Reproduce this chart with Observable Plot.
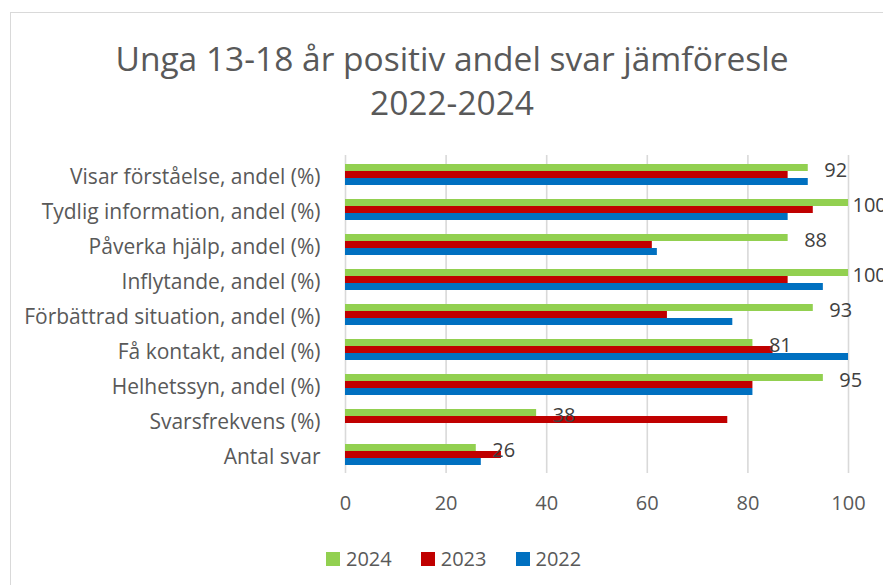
<!DOCTYPE html>
<html><head><meta charset="utf-8">
<script src="https://cdn.jsdelivr.net/npm/d3@7"></script>
<script src="https://cdn.jsdelivr.net/npm/@observablehq/plot@0.6"></script>
<style>
body{margin:0;background:#fff;}
#wrap{position:relative;width:883px;height:585px;overflow:hidden;font-family:"Open Sans",sans-serif;background:#fff;}
#border{position:absolute;left:10px;top:12px;width:900px;height:600px;border:1.5px solid #d9d9d9;}
#title{position:absolute;left:0;width:904px;top:36px;text-align:center;font-size:33.5px;color:#595959;line-height:44px;}
#grid,#chart{position:absolute;left:0;top:0;}
#legend{position:absolute;top:545px;left:326px;display:flex;align-items:center;font-size:20px;color:#595959;line-height:27px;}
#legend .item{display:flex;align-items:center;margin-right:29px;}
#legend .sw{width:14px;height:14px;margin-right:6px;}
</style></head>
<body>
<div id="wrap">
  <div id="border"></div>
  <div id="title">Unga 13-18 år positiv andel svar jämföresle<br>2022-2024</div>
  <div id="grid"></div>
  <div id="chart"></div>
  <div id="legend"></div>
</div>
<script>
const categories = [
  "Visar förståelse, andel (%)",
  "Tydlig information, andel (%)",
  "Påverka hjälp, andel (%)",
  "Inflytande, andel (%)",
  "Förbättrad situation, andel (%)",
  "Få kontakt, andel (%)",
  "Helhetssyn, andel (%)",
  "Svarsfrekvens (%)",
  "Antal svar"
];
const series = ["2024", "2023", "2022"];
const colors = ["#92D050", "#C00000", "#0070C0"];
const values2024 = [92, 100, 88, 100, 93, 81, 95, 38, 26];
const values2023 = [88, 93, 61, 88, 64, 85, 81, 76, 31];
const values2022 = [92, 88, 62, 95, 77, 100, 81, null, 27];
const xTicks = [0, 20, 40, 60, 80, 100];

const valuesBySeries = {"2024": values2024, "2023": values2023, "2022": values2022};
const rows = [];
series.forEach(s => categories.forEach((c, i) => {
  const v = valuesBySeries[s][i];
  if (v != null) rows.push({category: c, series: s, value: v});
}));
const labelRows = rows.filter(d => d.series === "2024");

const frame = {width: 883, height: 530, marginLeft: 345, marginRight: 35, marginTop: 155, marginBottom: 57};
const font = {fontFamily: "'Open Sans', sans-serif", fontSize: "20px", color: "#595959", background: "transparent", overflow: "visible"};

// Background: gridlines and x axis spanning the whole plot area
const grid = Plot.plot({
  ...frame,
  x: {domain: [0, 100]},
  style: font,
  marks: [
    Plot.ruleX(xTicks, {stroke: "#d9d9d9", strokeWidth: 1.6}),
    Plot.axisX({ticks: xTicks, tickSize: 0, tickPadding: 22, fontSize: 20, label: null, fill: "#595959"})
  ]
});
document.getElementById("grid").appendChild(grid);

// Foreground: grouped bars faceted by category
const chart = Plot.plot({
  ...frame,
  x: {domain: [0, 100], axis: null},
  y: {domain: series, padding: 0, axis: null},
  fy: {domain: categories, paddingInner: 0.376, paddingOuter: 0.198},
  color: {domain: series, range: colors},
  style: font,
  marks: [
    Plot.barX(rows, {x: "value", y: "series", fy: "category", fill: "series"}),
    Plot.text(labelRows.filter(d => d.value < 100), {x: "value", y: "series", fy: "category", text: d => String(d.value), textAnchor: "start", dx: 16, dy: 3, fontSize: 20, fill: "#404040"}),
    Plot.text(labelRows.filter(d => d.value >= 100), {x: "value", y: "series", fy: "category", text: d => String(d.value), textAnchor: "start", dx: 4, dy: 3, fontSize: 20, fill: "#404040"}),
    Plot.axisFy({anchor: "left", tickSize: 0, tickPadding: 25, label: null, fontSize: 21, fill: "#595959", dy: 3})
  ]
});
document.getElementById("chart").appendChild(chart);

const legend = document.getElementById("legend");
series.forEach((s, i) => {
  const item = document.createElement("div");
  item.className = "item";
  const sw = document.createElement("div");
  sw.className = "sw";
  sw.style.background = colors[i];
  const t = document.createElement("span");
  t.textContent = s;
  item.appendChild(sw);
  item.appendChild(t);
  legend.appendChild(item);
});
</script>
</body></html>
